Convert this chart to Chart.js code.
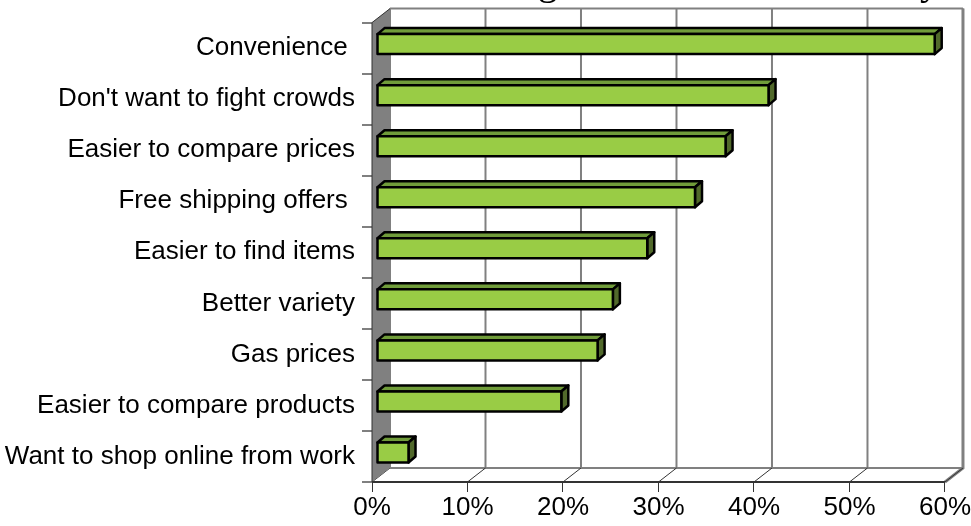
<!DOCTYPE html>
<html>
<head>
<meta charset="utf-8">
<script src="https://cdn.jsdelivr.net/npm/chart.js@4/dist/chart.umd.min.js"></script>
<style>
  html, body { margin: 0; padding: 0; background: #fff; }
  #wrap { width: 971px; height: 526px; }
</style>
</head>
<body>
<div id="wrap"><canvas id="c" width="971" height="526"></canvas></div>
<script>
// ── DATA ────────────────────────────────────────────────────────────────
const categories = [
  'Convenience ',
  "Don't want to fight crowds",
  'Easier to compare prices',
  'Free shipping offers ',
  'Easier to find items',
  'Better variety',
  'Gas prices',
  'Easier to compare products',
  'Want to shop online from work'
];
const shares = [58.4, 41.0, 36.5, 33.3, 28.3, 24.7, 23.1, 19.3, 3.3];
const tickValues = [0, 10, 20, 30, 40, 50, 60];
const titleText = 'Reasons for Going Online for this Holiday';

// ── 3D LOOK ─────────────────────────────────────────────────────────────
const WALL_DX = 18, WALL_DY = -14;   // back wall offset
const BAR_DX = 5, BAR_DY = -4;       // bar front face offset into depth
const BOX_DX = 7, BOX_DY = -6;       // bar depth
const GRID = '#808080';
const FRONT = '#99CC45', TOP = '#709C3A', SIDE = '#51692B';
const LABEL_FONT = { family: '"Liberation Sans", Arial, sans-serif', size: 26 };

const box3d = {
  id: 'box3d',
  beforeDatasetsDraw(chart) {
    const { ctx, chartArea: a, scales } = chart;
    const xs = scales.x;
    ctx.save();

    // back wall
    ctx.fillStyle = '#fff';
    ctx.fillRect(a.left + WALL_DX, a.top + WALL_DY, a.width, a.height);

    // back grid lines
    ctx.strokeStyle = GRID;
    ctx.lineWidth = 2;
    tickValues.forEach(v => {
      const x = xs.getPixelForValue(v) + WALL_DX;
      ctx.beginPath();
      ctx.moveTo(x, a.top + WALL_DY);
      ctx.lineTo(x, a.bottom + WALL_DY);
      ctx.stroke();
    });
    // top + right edge of wall
    ctx.beginPath();
    ctx.moveTo(a.left + WALL_DX, a.top + WALL_DY);
    ctx.lineTo(a.right + WALL_DX, a.top + WALL_DY);
    ctx.stroke();
    ctx.lineWidth = 3;
    ctx.beginPath();
    ctx.moveTo(a.right + WALL_DX, a.top + WALL_DY);
    ctx.lineTo(a.right + WALL_DX, a.bottom + WALL_DY);
    ctx.lineTo(a.right, a.bottom);
    ctx.stroke();

    // floor
    ctx.lineWidth = 2;
    ctx.beginPath();
    ctx.moveTo(a.left + WALL_DX, a.bottom + WALL_DY);
    ctx.lineTo(a.right + WALL_DX, a.bottom + WALL_DY);
    ctx.stroke();
    ctx.strokeStyle = '#333';
    ctx.lineWidth = 1;
    tickValues.forEach(v => {
      const x = xs.getPixelForValue(v);
      ctx.beginPath();
      ctx.moveTo(x, a.bottom);
      ctx.lineTo(x + WALL_DX, a.bottom + WALL_DY);
      ctx.stroke();
    });

    // left side wall
    ctx.fillStyle = '#808080';
    ctx.beginPath();
    ctx.moveTo(a.left, a.top);
    ctx.lineTo(a.left + WALL_DX, a.top + WALL_DY);
    ctx.lineTo(a.left + WALL_DX, a.bottom + WALL_DY);
    ctx.lineTo(a.left, a.bottom);
    ctx.closePath();
    ctx.fill();
    ctx.strokeStyle = '#333';
    ctx.lineWidth = 1;
    ctx.beginPath();
    ctx.moveTo(a.left, a.bottom);
    ctx.lineTo(a.left, a.top);
    ctx.lineTo(a.left + WALL_DX, a.top + WALL_DY);
    ctx.stroke();

    // front floor edge
    ctx.strokeStyle = '#333';
    ctx.lineWidth = 2;
    ctx.beginPath();
    ctx.moveTo(a.left, a.bottom);
    ctx.lineTo(a.right, a.bottom);
    ctx.stroke();

    ctx.restore();
  },
  afterDatasetsDraw(chart) {
    const { ctx } = chart;
    const meta = chart.getDatasetMeta(0);
    ctx.save();
    ctx.lineJoin = 'round';
    ctx.strokeStyle = '#000';
    ctx.lineWidth = 2.5;
    meta.data.forEach(el => {
      const x0 = el.base + BAR_DX, x1 = el.x + BAR_DX;
      const y0 = el.y - el.height / 2 + BAR_DY, y1 = el.y + el.height / 2 + BAR_DY;
      // top face
      ctx.fillStyle = TOP;
      ctx.beginPath();
      ctx.moveTo(x0, y0); ctx.lineTo(x0 + BOX_DX, y0 + BOX_DY);
      ctx.lineTo(x1 + BOX_DX, y0 + BOX_DY); ctx.lineTo(x1, y0);
      ctx.closePath(); ctx.fill(); ctx.stroke();
      // side face
      ctx.fillStyle = SIDE;
      ctx.beginPath();
      ctx.moveTo(x1, y0); ctx.lineTo(x1 + BOX_DX, y0 + BOX_DY);
      ctx.lineTo(x1 + BOX_DX, y1 + BOX_DY); ctx.lineTo(x1, y1);
      ctx.closePath(); ctx.fill(); ctx.stroke();
      // front face
      ctx.fillStyle = FRONT;
      ctx.fillRect(x0, y0, x1 - x0, y1 - y0);
      ctx.strokeRect(x0, y0, x1 - x0, y1 - y0);
    });
    ctx.restore();
  },
  afterDraw(chart) {
    // title, cut off at the top of the picture
    const { ctx } = chart;
    ctx.save();
    ctx.font = '40px "Liberation Serif", "Times New Roman", serif';
    ctx.fillStyle = '#000';
    ctx.textAlign = 'right';
    ctx.textBaseline = 'alphabetic';
    ctx.fillText(titleText, 940, -6);
    ctx.restore();
  }
};

new Chart(document.getElementById('c'), {
  type: 'bar',
  data: {
    labels: categories,
    datasets: [{
      data: shares,
      backgroundColor: 'rgba(0,0,0,0)',
      borderWidth: 0,
      barThickness: 20
    }]
  },
  options: {
    indexAxis: 'y',
    responsive: false,
    animation: false,
    events: [],
    layout: { padding: { top: 20, right: 25, left: 0, bottom: 0 } },
    plugins: { legend: { display: false }, tooltip: { enabled: false } },
    scales: {
      x: {
        min: 0, max: 60,
        afterFit: s => { s.height = 44; },
        afterBuildTicks: s => { s.ticks = tickValues.map(v => ({ value: v })); },
        ticks: {
          callback: v => v + '%',
          color: '#000',
          padding: 0,
          maxRotation: 0,
          font: LABEL_FONT
        },
        grid: { drawOnChartArea: false, tickLength: 10, color: '#333', lineWidth: 1 },
        border: { display: false }
      },
      y: {
        afterFit: s => { s.width = 372; },
        ticks: {
          color: '#000',
          padding: 7,
          font: LABEL_FONT
        },
        grid: { offset: true, drawOnChartArea: false, tickLength: 10, color: GRID, lineWidth: 2 },
        border: { display: false }
      }
    }
  },
  plugins: [box3d]
});
</script>
</body>
</html>
